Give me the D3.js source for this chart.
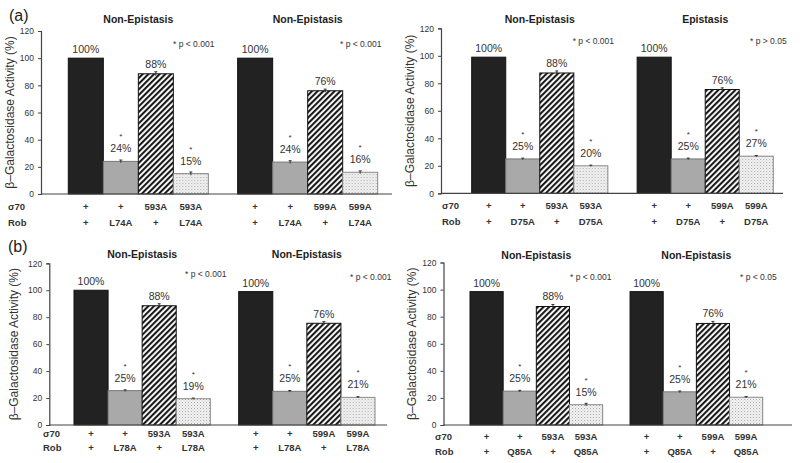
<!DOCTYPE html>
<html>
<head>
<meta charset="utf-8">
<script src="https://cdn.jsdelivr.net/npm/d3@7"></script>
<style>
  html, body { margin: 0; padding: 0; background: #fff; }
  svg { display: block; font-family: "Liberation Sans", Arial, sans-serif; }
</style>
</head>
<body>
<svg id="chart" width="800" height="463"></svg>
<script>
// ---------------- DATA ----------------
const panelTags = ["(a)", "", "(b)", ""];
const groupTitles = [
  ["Non-Epistasis", "Non-Epistasis"],
  ["Non-Epistasis", "Epistasis"],
  ["Non-Epistasis", "Non-Epistasis"],
  ["Non-Epistasis", "Non-Epistasis"]
];
const pNotes = [
  ["* p < 0.001", "* p < 0.001"],
  ["* p < 0.001", "* p > 0.05"],
  ["* p < 0.001", "* p < 0.001"],
  ["* p < 0.001", "* p < 0.05"]
];
const rowLabels = ["\u03c370", "Rob"];
const sigma70Labels = [
  ["+", "+", "593A", "593A"],
  ["+", "+", "599A", "599A"]
];
const robMutants = ["L74A", "D75A", "L78A", "Q85A"];
// bar values (%) per panel, per group: [wt, Rob mutant, sigma mutant, double]
const barValues = [
  [[100, 24, 88.5, 15], [100, 23.5, 76, 16]],
  [[99, 25, 87.5, 20], [99, 25, 75.5, 27]],
  [[100, 25.5, 88.5, 19.5], [99, 25, 75.5, 20.5]],
  [[98.5, 25, 87.5, 15], [98.5, 24.5, 75, 20.5]]
];
const barErrors = [
  [[0, 1, 1.5, 1.2], [0, 1, 1.2, 1]],
  [[0, 0.6, 1.5, 0.5], [0, 0.6, 1.2, 0.5]],
  [[0, 0.6, 1.5, 0.5], [0, 0.6, 1.2, 0.5]],
  [[0, 0.6, 1.5, 1], [0, 0.6, 1.5, 0.5]]
];
const valueLabels = [
  [["100%", "24%", "88%", "15%"], ["100%", "24%", "76%", "16%"]],
  [["100%", "25%", "88%", "20%"], ["100%", "25%", "76%", "27%"]],
  [["100%", "25%", "88%", "19%"], ["100%", "25%", "76%", "21%"]],
  [["100%", "25%", "88%", "15%"], ["100%", "25%", "76%", "21%"]]
];
const starred = [false, true, false, true];
const yTicks = [0, 20, 40, 60, 80, 100, 120];
const yLabel = "\u03b2\u2013Galactosidase Activity (%)";

// ---------------- LAYOUT ----------------
const layout = [
  { axisX: 41, y0: 194, yTop: 31, bars: [68.3, 377.7], gap: 29.3, lineEnd: 392,
    rowY: [209.5, 225.5], rowLabelX: 8, yLabelX: 10, titleY: 22.5, tag: [9, 21],
    pNoteX: [173, 340], pNoteY: [46.5, 46.5] },
  { axisX: 441, y0: 193.3, yTop: 28.3, bars: [471.7, 773.3], gap: 29.3, lineEnd: 783,
    rowY: [209, 224.5], rowLabelX: 442, yLabelX: 410, titleY: 22.5, tag: [409, 21],
    pNoteX: [572.7, 750], pNoteY: [43.5, 43.5] },
  { axisX: 49.3, y0: 425, yTop: 263.3, bars: [74, 375], gap: 28.4, lineEnd: 387,
    rowY: [436.8, 451], rowLabelX: 43, yLabelX: 14, titleY: 257.5, tag: [8, 251.5],
    pNoteX: [185, 350], pNoteY: [276.8, 280.2] },
  { axisX: 443.5, y0: 425, yTop: 262.5, bars: [470, 762.7], gap: 27.4, lineEnd: 792,
    rowY: [440, 455], rowLabelX: 435, yLabelX: 412, titleY: 258.5, tag: [408, 251.5],
    pNoteX: [570, 740], pNoteY: [280.2, 280.2] }
];

const svg = d3.select("#chart");
const defs = svg.append("defs");

// hatch pattern "/"
const hatch = defs.append("pattern")
  .attr("id", "hatch").attr("patternUnits", "userSpaceOnUse")
  .attr("width", 4).attr("height", 4)
  .attr("patternTransform", "rotate(45)");
hatch.append("rect").attr("width", 4).attr("height", 4).attr("fill", "#fff");
hatch.append("line").attr("x1", 1).attr("y1", 0).attr("x2", 1).attr("y2", 4)
  .attr("stroke", "#1a1a1a").attr("stroke-width", 2.2);

// stipple pattern
const dots = defs.append("pattern")
  .attr("id", "dots").attr("patternUnits", "userSpaceOnUse")
  .attr("width", 3).attr("height", 3);
dots.append("rect").attr("width", 3).attr("height", 3).attr("fill", "#f3f3f3");
dots.append("rect").attr("x", 0).attr("y", 0).attr("width", 1).attr("height", 1).attr("fill", "#a8a8a8");
dots.append("rect").attr("x", 1.5).attr("y", 1.5).attr("width", 1).attr("height", 1).attr("fill", "#c4c4c4");

const barFills = ["#222222", "#a9a9a9", "url(#hatch)", "url(#dots)"];
const barStrokes = ["#111", "#777", "#111", "#888"];

layout.forEach((L, pi) => {
  const g = svg.append("g");
  const y = d3.scaleLinear().domain([0, 120]).range([L.y0, L.yTop]);

  const W = L.bars[1] - L.bars[0];
  const pad = 2 * L.gap / (W + L.gap);
  const gx = d3.scaleBand().domain([0, 1]).range(L.bars).paddingInner(pad).paddingOuter(0);
  const bx = d3.scaleBand().domain([0, 1, 2, 3]).range([0, gx.bandwidth()]).padding(0);

  // y axis
  const yAxis = d3.axisLeft(y).tickValues(yTicks).tickSize(3).tickPadding(4);
  const ya = g.append("g").attr("transform", `translate(${L.axisX},0)`).call(yAxis);
  ya.select(".domain").attr("stroke", "#444").attr("stroke-width", 1.2);
  ya.selectAll(".tick line").attr("stroke", "#444");
  ya.selectAll(".tick text").attr("font-size", 8.5).attr("fill", "#333")
    .attr("font-family", "Liberation Sans, Arial, sans-serif");

  // y label
  g.append("text")
    .attr("transform", `translate(${L.yLabelX + 4},${(L.y0 + L.yTop) / 2}) rotate(-90)`)
    .attr("text-anchor", "middle").attr("font-size", 12).attr("fill", "#333")
    .text(yLabel);

  // panel tag
  if (panelTags[pi]) {
    g.append("text").attr("x", L.tag[0]).attr("y", L.tag[1])
      .attr("font-size", 16).attr("fill", "#222").text(panelTags[pi]);
  }

  // groups
  [0, 1].forEach(gi => {
    const gg = g.append("g").attr("transform", `translate(${gx(gi)},0)`);
    const vals = barValues[pi][gi];
    const errs = barErrors[pi][gi];
    const labs = valueLabels[pi][gi];

    gg.selectAll("rect.bar").data(vals).join("rect")
      .attr("class", "bar")
      .attr("x", (d, i) => bx(i))
      .attr("y", d => y(d))
      .attr("width", bx.bandwidth())
      .attr("height", d => L.y0 - y(d))
      .attr("fill", (d, i) => barFills[i])
      .attr("stroke", (d, i) => barStrokes[i])
      .attr("stroke-width", 1);

    // error bars
    vals.forEach((v, i) => {
      if (!errs[i]) return;
      const cx = bx(i) + bx.bandwidth() / 2;
      gg.append("line").attr("x1", cx).attr("x2", cx)
        .attr("y1", y(v - errs[i])).attr("y2", y(v + errs[i]))
        .attr("stroke", "#333").attr("stroke-width", 1);
      gg.append("line").attr("x1", cx - 1.5).attr("x2", cx + 1.5)
        .attr("y1", y(v + errs[i])).attr("y2", y(v + errs[i]))
        .attr("stroke", "#333").attr("stroke-width", 1);
    });

    // value labels
    vals.forEach((v, i) => {
      const cx = bx(i) + bx.bandwidth() / 2;
      let base;
      if (i === 0) base = y(v) - 5;
      else if (i === 2) base = y(v + errs[i]) - 4;
      else base = y(v) - 9;
      gg.append("text").attr("x", cx).attr("y", base)
        .attr("text-anchor", "middle").attr("font-size", 10.5).attr("fill", "#333")
        .text(labs[i]);
      if (starred[i]) {
        gg.append("text").attr("x", cx).attr("y", base - 13)
          .attr("text-anchor", "middle").attr("font-size", 8).attr("fill", "#333")
          .text("*");
      }
    });

    // title
    g.append("text")
      .attr("x", gx(gi) + gx.bandwidth() / 2).attr("y", L.titleY)
      .attr("text-anchor", "middle").attr("font-size", 10.5).attr("font-weight", "bold")
      .attr("fill", "#222").text(groupTitles[pi][gi]);

    // p note
    g.append("text").attr("x", L.pNoteX[gi]).attr("y", L.pNoteY[gi])
      .attr("font-size", 8.5).attr("fill", "#333").text(pNotes[pi][gi]);

    // row category labels
    const robLabs = ["+", robMutants[pi], "+", robMutants[pi]];
    [sigma70Labels[gi], robLabs].forEach((row, ri) => {
      row.forEach((t, i) => {
        gg.append("text").attr("x", bx(i) + bx.bandwidth() / 2).attr("y", L.rowY[ri])
          .attr("text-anchor", "middle").attr("font-size", 9.5).attr("font-weight", "bold")
          .attr("fill", "#333").text(t);
      });
    });
  });

  // baseline
  g.append("line").attr("x1", L.axisX).attr("x2", L.lineEnd)
    .attr("y1", L.y0).attr("y2", L.y0).attr("stroke", "#444").attr("stroke-width", 1.2);

  // row headers
  rowLabels.forEach((t, ri) => {
    g.append("text").attr("x", L.rowLabelX).attr("y", L.rowY[ri])
      .attr("font-size", 9.5).attr("font-weight", "bold").attr("fill", "#333").text(t);
  });
});
</script>
</body>
</html>
